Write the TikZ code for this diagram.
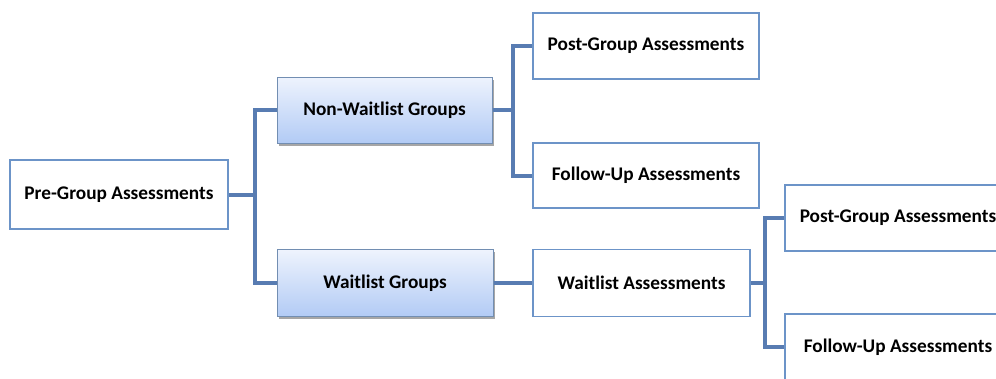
\documentclass[tikz,border=0pt]{standalone}
\usepackage{fontspec}
\setmainfont{Carlito}
\usetikzlibrary{shadows}
\definecolor{boxline}{RGB}{108,148,200}
\definecolor{conn}{RGB}{88,124,178}
\definecolor{gtop}{RGB}{238,243,253}
\definecolor{gbot}{RGB}{178,203,245}
\tikzset{
  plainbox/.style={draw=boxline, line width=1.8pt, fill=white, inner sep=0pt,
    font=\fontsize{19.3}{22}\selectfont\bfseries, align=center},
  groupbox/.style={draw=boxline!70!gray, line width=1pt, top color=gtop, bottom color=gbot,
    inner sep=0pt, font=\fontsize{19.3}{22}\selectfont\bfseries, align=center,
    drop shadow={shadow xshift=1.5pt, shadow yshift=-2.5pt, opacity=0.35, fill=black}},
  conline/.style={draw=conn, line width=4pt}
}
\begin{document}
\begin{tikzpicture}[x=1pt,y=-1pt]
\useasboundingbox (0,0) rectangle (996,378);
\clip (0,0) rectangle (996,378);
\node[plainbox, minimum width=218pt, minimum height=69pt] (pre) at (119,194.5) {Pre-Group Assessments};
\node[groupbox, minimum width=215pt, minimum height=66pt] (nw) at (384.5,110) {Non-Waitlist Groups};
\node[groupbox, minimum width=216pt, minimum height=67pt] (w) at (385,283) {Waitlist Groups};
\node[plainbox, minimum width=226pt, minimum height=66pt] (pg1) at (646,46) {Post-Group Assessments};
\node[plainbox, minimum width=226pt, minimum height=65pt] (fu1) at (646,175.5) {Follow-Up Assessments};
\node[plainbox, minimum width=217pt, minimum height=67pt] (wa) at (641.5,283) {Waitlist Assessments};
\node[plainbox, minimum width=226pt, minimum height=66pt] (pg2) at (898,218) {Post-Group Assessments};
\node[plainbox, minimum width=226pt, minimum height=66pt] (fu2) at (898,347) {Follow-Up Assessments};
\coordinate (j1) at (255,194.5);
\coordinate (j2) at (513,110);
\coordinate (j3) at (765,283);
\draw[conline] (pre.east) -- (j1);
\draw[conline] (j1) |- (nw.west);
\draw[conline] (j1) |- (w.west);
\draw[conline] (nw.east) -- (j2);
\draw[conline] (j2) |- (pg1.west);
\draw[conline] (j2) |- (fu1.west);
\draw[conline] (w.east) -- (wa.west);
\draw[conline] (wa.east) -- (j3);
\draw[conline] (j3) |- (pg2.west);
\draw[conline] (j3) |- (fu2.west);
\end{tikzpicture}
\end{document}
